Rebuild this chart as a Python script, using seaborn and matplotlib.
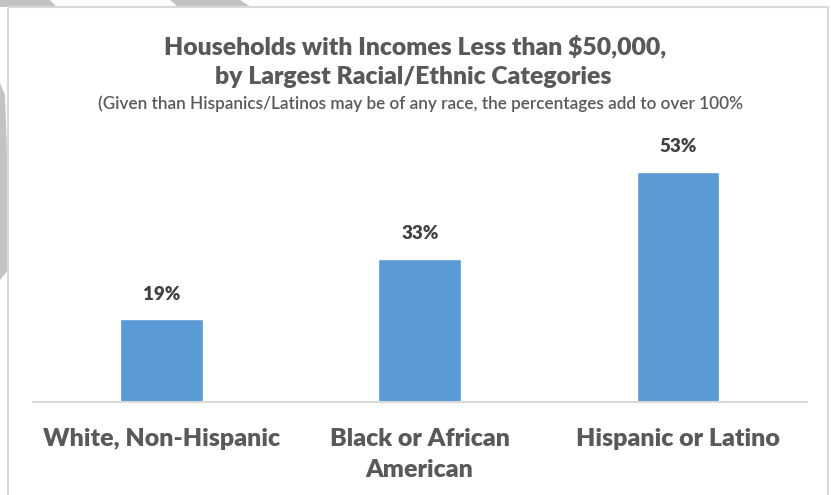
import matplotlib
matplotlib.use("Agg")
import matplotlib.pyplot as plt
import seaborn as sns
import pandas as pd
from matplotlib.patches import Polygon, Rectangle

categories = ["White, Non-Hispanic", "Black or African\nAmerican", "Hispanic or Latino"]
values = [19, 33, 53]
value_labels = ["19%", "33%", "53%"]

sns.set_theme(style="white")
plt.rcParams['font.family'] = ['Lato', 'DejaVu Sans']

W, H = 831, 495
fig = plt.figure(figsize=(W / 100, H / 100), dpi=100)

def fx(x):
    return x / W

def fy(y):
    return 1 - y / H

# background decoration (screenshot frame)
deco_color = "#c3c3c3"
for pts in ([(0, 0), (50, 0), (57, 7), (0, 7)],
            [(170, 0), (240, 0), (251, 7), (178, 7)],
            [(0, 83), (5, 95), (8, 180), (8, 270), (0, 280)]):
    fig.patches.append(Polygon([(fx(a), fy(b)) for a, b in pts], closed=True,
                               transform=fig.transFigure, facecolor=deco_color,
                               edgecolor="none", zorder=-2))
fig.patches.append(Rectangle((fx(8), fy(497)), fx(820), (490) / H,
                             transform=fig.transFigure, facecolor="white",
                             edgecolor="#d9d9d9", linewidth=1.5, zorder=-1))

ax = fig.add_axes([fx(32.5), fy(401.5), fx(807 - 32.5), (401.5 - 130) / H])
ax.set_zorder(2)
ax.set_facecolor("none")
df = pd.DataFrame({"cat": categories, "val": values})
sns.barplot(data=df, x="cat", y="val", color="#5b9bd5", saturation=1,
            width=0.32, ax=ax)
ax.set_ylim(0, (401.5 - 130) / 4.33)
ax.set_xlim(-0.5, 2.5)
ax.set_yticks([])
ax.set_xlabel("")
ax.set_ylabel("")
for s in ["top", "right", "left"]:
    ax.spines[s].set_visible(False)
ax.spines["bottom"].set_color("#d9d9d9")
ax.spines["bottom"].set_linewidth(1.5)
ax.tick_params(axis="x", length=0, pad=19)
for lbl in ax.get_xticklabels():
    lbl.set_fontsize(18)
    lbl.set_fontweight("heavy")
    lbl.set_color("#595959")
    lbl.set_linespacing(1.5)

for container in ax.containers:
    ax.bar_label(container, labels=value_labels, padding=12, fontsize=13.5,
                 fontweight="heavy", color="#404040")

fig.text(0.5 * (fx(167) + fx(663)), fy(46), "Households with Incomes Less than $50,000,",
         ha="center", va="center", fontsize=17.8, fontweight="heavy", color="#595959")
fig.text(0.5 * (fx(218) + fx(608)), fy(77), "by Largest Racial/Ethnic Categories",
         ha="center", va="center", fontsize=17.8, fontweight="heavy", color="#595959")
fig.text(0.5 * (fx(97) + fx(745)), fy(104),
         "(Given than Hispanics/Latinos may be of any race, the percentages add to over 100%",
         ha="center", va="center", fontsize=12.3, fontweight="semibold", color="#595959")

fig.savefig("out.png", dpi=100)
